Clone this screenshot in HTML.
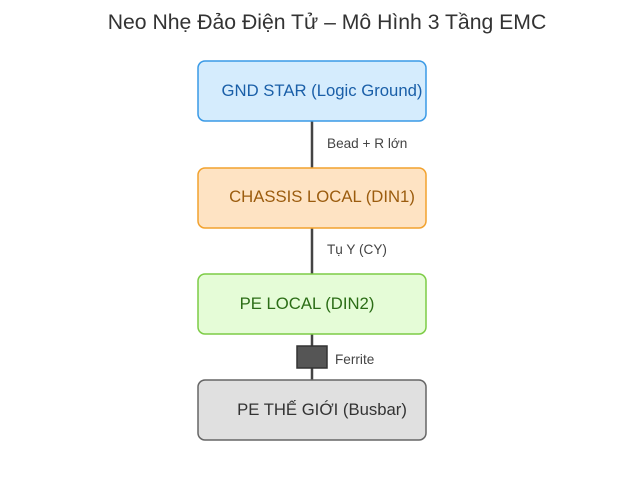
<!DOCTYPE html>
<html><head><meta charset="utf-8"><style>body{margin:0;background:#fff}</style></head><body>
<svg width="624" height="487" xmlns="http://www.w3.org/2000/svg" font-family="Liberation Sans, DejaVu Sans, sans-serif">
<rect width="624" height="487" fill="#fff"/>
<text x="327" y="29" font-size="21.2" text-anchor="middle" fill="#333">Neo Nhẹ Đảo Điện Tử – Mô Hình 3 Tầng EMC</text>
<g stroke="#444" stroke-width="2.5">
<line x1="312" y1="121" x2="312" y2="168"/>
<line x1="312" y1="228" x2="312" y2="274"/>
<line x1="312" y1="334" x2="312" y2="380"/>
</g>
<rect x="297" y="346" width="30" height="22" fill="#555" stroke="#333" stroke-width="1.5"/>
<rect x="198" y="61" width="228" height="60" rx="7" fill="#d5ecfd" stroke="#3a9ae6" stroke-width="1.5"/>
<rect x="198" y="168" width="228" height="60" rx="7" fill="#fee3c3" stroke="#f2a22e" stroke-width="1.5"/>
<rect x="198" y="274" width="228" height="60" rx="7" fill="#e5fcd7" stroke="#7dcc46" stroke-width="1.5"/>
<rect x="198" y="380" width="228" height="60" rx="7" fill="#e0e0e0" stroke="#666" stroke-width="1.5"/>
<g font-size="16.7">
<text x="322" y="96" text-anchor="middle" fill="#1a5fa8">GND STAR (Logic Ground)</text>
<text x="322" y="202" text-anchor="middle" fill="#9b5c0e">CHASSIS LOCAL (DIN1)</text>
<text x="307" y="309" text-anchor="middle" fill="#2b6d16">PE LOCAL (DIN2)</text>
<text x="322" y="415" text-anchor="middle" fill="#333">PE THẾ GIỚI (Busbar)</text>
</g>
<g font-size="13.6" fill="#444">
<text x="327" y="148">Bead + R lớn</text>
<text x="327" y="254">Tụ Y (CY)</text>
<text x="335" y="364">Ferrite</text>
</g>
</svg>
</body></html>
